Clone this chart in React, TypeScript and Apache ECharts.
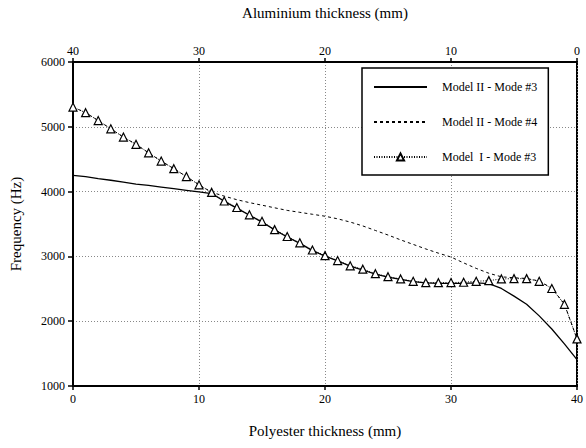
import React, { useEffect, useRef } from "react";
import * as echarts from "echarts";

const polyester = [0, 1, 2, 3, 4, 5, 6, 7, 8, 9, 10, 11, 12, 13, 14, 15, 16, 17, 18, 19, 20, 21, 22, 23, 24, 25, 26, 27, 28, 29, 30, 31, 32, 33, 34, 35, 36, 37, 38, 39, 40];

const modelIIMode3 = [4250, 4230, 4200, 4175, 4145, 4115, 4095, 4070, 4045, 4020, 3995, 3970, 3850, 3745, 3635, 3530, 3410, 3300, 3200, 3090, 3005, 2930, 2850, 2790, 2725, 2680, 2645, 2610, 2590, 2585, 2585, 2585, 2590, 2580, 2505, 2387, 2261, 2082, 1880, 1651, 1407];

const modelIIMode4 = [5305, 5218, 5096, 4969, 4841, 4730, 4598, 4471, 4354, 4232, 4105, 3990, 3930, 3875, 3830, 3790, 3750, 3710, 3680, 3650, 3620, 3580, 3530, 3470, 3400, 3330, 3255, 3185, 3115, 3050, 2990, 2900, 2815, 2740, 2685, 2670, 2660, 2620, 2510, 2265, 1727];

const modelIMode3 = [5305, 5218, 5096, 4969, 4841, 4730, 4598, 4471, 4354, 4232, 4105, 3988, 3855, 3755, 3642, 3541, 3413, 3307, 3210, 3099, 3012, 2936, 2855, 2803, 2733, 2687, 2652, 2616, 2594, 2594, 2596, 2601, 2616, 2626, 2652, 2657, 2657, 2616, 2505, 2261, 1727];

const seriesNames = ["Model II - Mode #3", "Model II - Mode #4", "Model  I - Mode #3"];

const FONT = "Liberation Serif";

export default function App() {
  const ref = useRef<HTMLDivElement>(null);
  useEffect(() => {
    if (!ref.current) return;
    const chart = echarts.init(ref.current, undefined, { renderer: "svg" });
    const pairs = (ys: number[]) => polyester.map((x, i) => [x, ys[i]]);
    chart.setOption({
      animation: false,
      backgroundColor: "#fff",
      textStyle: { fontFamily: FONT, color: "#000" },
      grid: { left: 69, right: 5, top: 58, bottom: 62, show: true, borderColor: "#000", borderWidth: 2, backgroundColor: "transparent" },
      legend: {
        data: [
          { name: seriesNames[0], itemStyle: { opacity: 0 } },
          { name: seriesNames[1], itemStyle: { opacity: 0 } },
          { name: seriesNames[2] },
        ],
        orient: "vertical",
        left: 362,
        top: 68,
        itemWidth: 53,
        itemHeight: 9,
        itemGap: 23,
        padding: [13, 11, 12, 11],
        borderColor: "#000",
        borderWidth: 1.5,
        backgroundColor: "#fff",
        textStyle: { fontFamily: FONT, fontSize: 12, color: "#000", padding: [0, 0, 0, 10] },
      },
      xAxis: [
        {
          type: "value",
          min: 0,
          max: 40,
          interval: 10,
          position: "bottom",
          name: "Polyester thickness (mm)",
          nameLocation: "middle",
          nameGap: 37,
          nameTextStyle: { fontFamily: FONT, fontSize: 15, color: "#000" },
          axisLine: { show: true, lineStyle: { color: "#000", width: 2 } },
          axisTick: { show: true, length: 4, lineStyle: { color: "#000", width: 1.5 } },
          axisLabel: { fontFamily: FONT, fontSize: 12, color: "#000", margin: 7 },
          splitLine: { show: true, lineStyle: { color: "#888", type: [1, 2], width: 1 } },
        },
        {
          type: "value",
          min: 0,
          max: 40,
          interval: 10,
          inverse: true,
          position: "top",
          name: "Aluminium thickness (mm)",
          nameLocation: "middle",
          nameGap: 42,
          nameTextStyle: { fontFamily: FONT, fontSize: 15, color: "#000" },
          axisLine: { show: true, lineStyle: { color: "#000", width: 2 } },
          axisTick: { show: true, length: 4, lineStyle: { color: "#000", width: 1.5 } },
          axisLabel: { fontFamily: FONT, fontSize: 12, color: "#000", margin: 5 },
          splitLine: { show: false },
        },
      ],
      yAxis: [
        {
          type: "value",
          min: 1000,
          max: 6000,
          interval: 1000,
          name: "Frequency (Hz)",
          nameLocation: "middle",
          nameGap: 50,
          nameTextStyle: { fontFamily: FONT, fontSize: 15, color: "#000" },
          axisLine: { show: true, lineStyle: { color: "#000", width: 2 } },
          axisTick: { show: true, length: 5, lineStyle: { color: "#000", width: 1.5 } },
          axisLabel: { fontFamily: FONT, fontSize: 12, color: "#000", margin: 8, formatter: (v: number) => String(v) },
          splitLine: { show: true, lineStyle: { color: "#888", type: [1, 2], width: 1 } },
        },
      ],
      series: [
        {
          name: seriesNames[0],
          type: "line",
          xAxisIndex: 0,
          data: pairs(modelIIMode3),
          symbol: "none",
          lineStyle: { color: "#000", width: 1.3, type: "solid" },
          itemStyle: { color: "#000" },
          z: 3,
        },
        {
          name: seriesNames[1],
          type: "line",
          xAxisIndex: 0,
          data: pairs(modelIIMode4),
          symbol: "none",
          lineStyle: { color: "#000", width: 1, type: [3, 3] },
          itemStyle: { color: "#000" },
          z: 4,
        },
        {
          name: seriesNames[2],
          type: "line",
          xAxisIndex: 0,
          data: pairs(modelIMode3),
          symbol: "triangle",
          symbolSize: 8,
          showAllSymbol: true,
          lineStyle: { color: "#000", width: 1, type: [1, 1.5] },
          itemStyle: { color: "#fff", borderColor: "#000", borderWidth: 1.2 },
          z: 5,
        },
      ],
    });
    return () => chart.dispose();
  }, []);
  return <div ref={ref} style={{ position: "absolute", left: 0, top: 0, width: 586, height: 448 }} />;
}
